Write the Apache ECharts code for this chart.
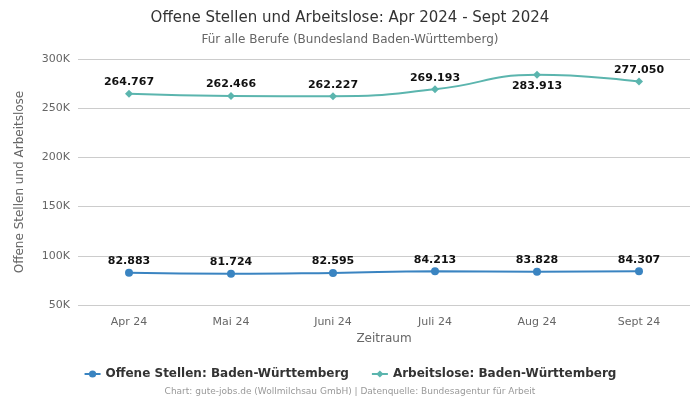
<!DOCTYPE html>
<html><head><meta charset="utf-8">
<script src="https://cdn.jsdelivr.net/npm/echarts@6/dist/echarts.min.js"></script>
<style>html,body{margin:0;padding:0;background:#fff}#c{width:700px;height:400px}</style>
</head><body><div id="c"></div>
<script>
const categories = ['Apr 24','Mai 24','Juni 24','Juli 24','Aug 24','Sept 24'];
const offeneStellen = [82883, 81724, 82595, 84213, 83828, 84307];
const arbeitslose = [264767, 262466, 262227, 269193, 283913, 277050];
const arbeitsloseLabelPos = ['top','top','top','top','bottom','top'];
const yTicks = [50000, 100000, 150000, 200000, 250000, 300000];

const fmt = v => v.toLocaleString('de-DE');
const font = 'DejaVu Sans, sans-serif';
const chart = echarts.init(document.getElementById('c'));
chart.setOption({
  animation: false,
  textStyle: {fontFamily: font},
  title: {
    text: 'Offene Stellen und Arbeitslose: Apr 2024 - Sept 2024',
    subtext: 'Für alle Berufe (Bundesland Baden-Württemberg)',
    left: 'center', top: 6,
    textStyle: {fontSize: 15, fontWeight: 'normal', color: '#333', fontFamily: font},
    subtextStyle: {fontSize: 12, color: '#666', fontFamily: font},
    itemGap: 8
  },
  grid: {left: 78, right: 10, top: 59, bottom: 95},
  xAxis: {
    type: 'category', data: categories, boundaryGap: true,
    name: 'Zeitraum', nameLocation: 'middle', nameGap: 28,
    nameTextStyle: {fontSize: 12, color: '#666'},
    axisLine: {show: false}, axisTick: {show: false},
    axisLabel: {color: '#666', fontSize: 11, margin: 12}
  },
  yAxis: {
    type: 'value', min: yTicks[0], max: yTicks[yTicks.length-1], interval: 50000,
    name: 'Offene Stellen und Arbeitslose', nameLocation: 'middle', nameGap: 52,
    nameTextStyle: {fontSize: 12, color: '#666'},
    axisLabel: {color: '#666', fontSize: 11, formatter: v => (v/1000) + 'K'},
    splitLine: {lineStyle: {color: '#ccc'}}
  },
  legend: {
    bottom: 15, left: 'center', itemGap: 22,
    textStyle: {fontSize: 12, fontWeight: 'bold', color: '#333'},
    data: ['Offene Stellen: Baden-Württemberg', 'Arbeitslose: Baden-Württemberg'],
    itemWidth: 16, itemHeight: 9
  },
  graphic: [{
    type: 'text', left: 'center', bottom: 4,
    style: {text: 'Chart: gute-jobs.de (Wollmilchsau GmbH) | Datenquelle: Bundesagentur für Arbeit', fill: '#999', fontSize: 9, fontFamily: font}
  }],
  series: [
    {
      name: 'Offene Stellen: Baden-Württemberg', type: 'line', smooth: true,
      data: offeneStellen, color: '#3a84c1', symbol: 'circle', symbolSize: 8,
      lineStyle: {width: 2},
      label: {show: true, position: 'top', formatter: p => fmt(p.value), fontSize: 11, fontWeight: 'bold', color: '#111', distance: 2}
    },
    {
      name: 'Arbeitslose: Baden-Württemberg', type: 'line', smooth: true,
      data: arbeitslose.map((v,i) => ({value: v, label: {position: arbeitsloseLabelPos[i]}})),
      color: '#5bb5ae', symbol: 'diamond', symbolSize: 8,
      lineStyle: {width: 2},
      label: {show: true, formatter: p => fmt(p.value), fontSize: 11, fontWeight: 'bold', color: '#111', distance: 2}
    }
  ]
});
</script></body></html>
